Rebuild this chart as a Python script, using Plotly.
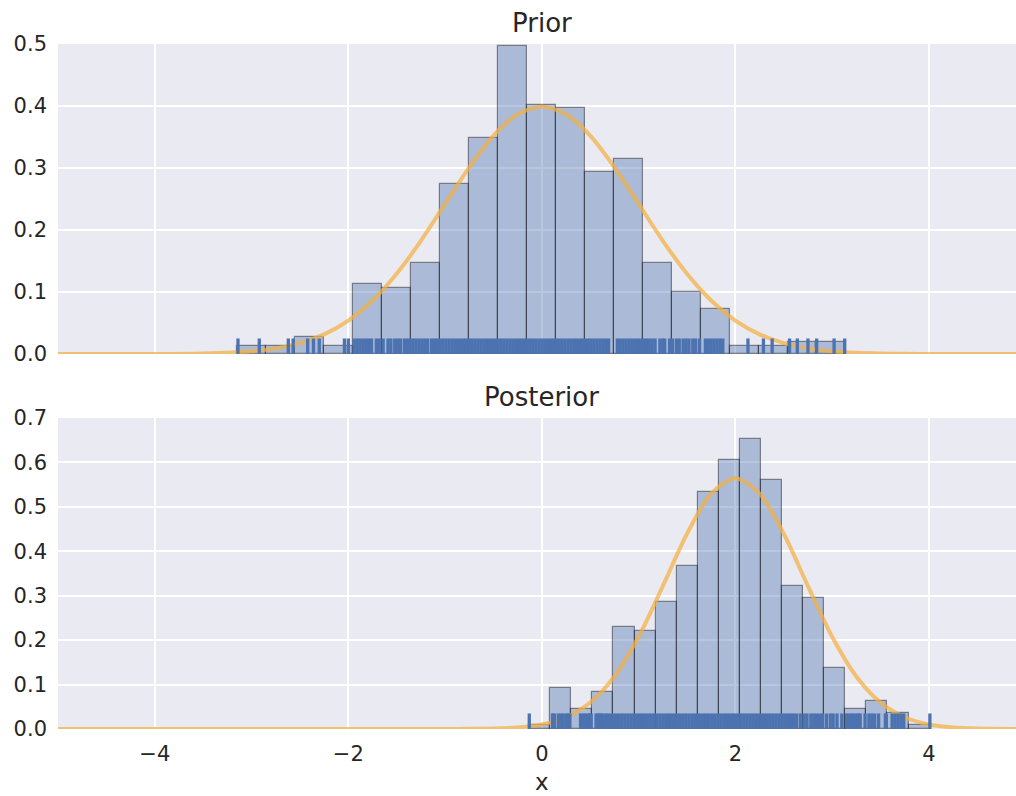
import plotly.graph_objects as go

# ---------------- data ----------------
# Prior histogram (density), 21 equal bins
prior_bin_start = -3.148
prior_bin_width = 0.2993
prior_density = [0.013, 0.013, 0.027, 0.013, 0.113, 0.107, 0.147, 0.274, 0.348,
                 0.496, 0.402, 0.396, 0.294, 0.315, 0.147, 0.100, 0.073, 0.013,
                 0.013, 0.019, 0.019]

# Posterior histogram (density), 19 equal bins
post_bin_start = -0.131
post_bin_width = 0.2178
post_density = [0.009, 0.092, 0.046, 0.083, 0.230, 0.220, 0.285, 0.367, 0.533,
                0.606, 0.652, 0.560, 0.321, 0.294, 0.138, 0.046, 0.064, 0.037,
                0.009]

# Density curves
curve_x = [-5.0, -4.5, -4.0, -3.5, -3.0, -2.75, -2.5, -2.25, -2.0, -1.75, -1.5,
           -1.25, -1.0, -0.75, -0.5, -0.25, 0.0, 0.25, 0.5, 0.75, 1.0, 1.25,
           1.5, 1.75, 2.0, 2.25, 2.5, 2.75, 3.0, 3.25, 3.5, 3.75, 4.0, 4.25,
           4.5, 5.0]
prior_curve = [0.0, 0.0, 0.0001, 0.0009, 0.0044, 0.0091, 0.0175, 0.0317, 0.0540,
               0.0863, 0.1295, 0.1826, 0.2420, 0.3011, 0.3521, 0.3867, 0.3989,
               0.3867, 0.3521, 0.3011, 0.2420, 0.1826, 0.1295, 0.0863, 0.0540,
               0.0317, 0.0175, 0.0091, 0.0044, 0.0020, 0.0009, 0.0003, 0.0001,
               0.0, 0.0, 0.0]
post_curve = [0.0, 0.0, 0.0, 0.0, 0.0, 0.0, 0.0, 0.0, 0.0, 0.0, 0.0, 0.0, 0.0001,
              0.0004, 0.0011, 0.0036, 0.0103, 0.0264, 0.0595, 0.1183, 0.2076,
              0.3215, 0.4394, 0.5300, 0.5642, 0.5300, 0.4394, 0.3215, 0.2076,
              0.1183, 0.0595, 0.0264, 0.0103, 0.0036, 0.0011, 0.0001]

# Rug positions (sample locations)
prior_rug = [-3.14, -2.92, -2.62, -2.57, -2.42, -2.36, -2.30, -2.04, -2.00,
             -1.94, -1.91, -1.88, -1.85, -1.82, -1.79, -1.76, -1.71, -1.68,
             -1.64, -1.59, -1.56, -1.52, -1.49, -1.46, -1.42, -1.39, -1.36,
             -1.33, -1.30, -1.27, -1.24, -1.21, -1.18,
             -1.14, -1.11, -1.08, -1.05, -1.02, -0.99, -0.96, -0.93, -0.90,
             -0.87, -0.84, -0.81, -0.78, -0.75, -0.72, -0.69, -0.66, -0.63,
             -0.60, -0.57, -0.54, -0.51, -0.48, -0.45, -0.42, -0.39, -0.36,
             -0.33, -0.30, -0.27, -0.24, -0.21, -0.18, -0.15, -0.12, -0.09,
             -0.06, -0.03, 0.00, 0.03, 0.06, 0.09, 0.12, 0.15, 0.18, 0.21,
             0.24, 0.27, 0.30, 0.33, 0.36, 0.39, 0.42, 0.45, 0.48, 0.51, 0.54,
             0.57, 0.60, 0.63, 0.66, 0.69,
             0.78, 0.81, 0.84, 0.87, 0.90, 0.93, 0.96, 0.99, 1.02, 1.05, 1.08,
             1.11, 1.14, 1.17,
             1.22, 1.25, 1.27, 1.32, 1.35, 1.39, 1.42, 1.46, 1.49, 1.52, 1.56,
             1.59, 1.63, 1.69, 1.72, 1.75, 1.78, 1.81, 1.84, 1.87,
             2.13, 2.29, 2.38, 2.56, 2.64, 2.75, 2.84, 3.02, 3.13]
post_rug = [-0.13,
            0.11, 0.13, 0.17, 0.20, 0.22, 0.25, 0.27, 0.29, 0.40, 0.43, 0.45,
            0.48, 0.49, 0.51, 0.56, 0.58, 0.60, 0.61, 0.63, 0.66, 0.68, 0.71,
            0.74, 0.77, 0.80, 0.83,
            0.86, 0.89, 0.92, 0.95, 0.98, 1.01, 1.04, 1.07, 1.10, 1.13, 1.16,
            1.19, 1.22, 1.25, 1.28, 1.31, 1.34, 1.37, 1.40, 1.43, 1.46, 1.49,
            1.52, 1.55, 1.58, 1.61, 1.64, 1.67, 1.70, 1.73, 1.76, 1.79, 1.82,
            1.85, 1.88, 1.91, 1.94, 1.97, 2.00, 2.03, 2.06, 2.09, 2.12, 2.15,
            2.18, 2.21, 2.24, 2.27, 2.30, 2.33, 2.36, 2.39, 2.42, 2.45, 2.48,
            2.51, 2.54, 2.57, 2.60, 2.63, 2.67, 2.71, 2.74, 2.78, 2.81, 2.84,
            2.87, 2.90, 2.94, 2.98, 3.01, 3.05,
            3.10, 3.15, 3.17, 3.20, 3.22, 3.25, 3.27, 3.29, 3.34, 3.38, 3.41,
            3.44, 3.48, 3.55, 3.56, 3.62, 3.65, 3.68, 3.71, 3.74, 4.01]

x_ticks = [-4, -2, 0, 2, 4]
prior_yticks = [0.0, 0.1, 0.2, 0.3, 0.4, 0.5]
post_yticks = [0.0, 0.1, 0.2, 0.3, 0.4, 0.5, 0.6, 0.7]
titles = ["Prior", "Posterior"]
x_label = "x"

# ---------------- styles ----------------
BG = "#EAEAF2"
TXT = "#262626"
BLUE = "#4C72B0"
BAR_FILL = "rgba(76,114,176,0.40)"
BAR_EDGE = "rgba(0,0,0,0.42)"
CURVE = "rgba(245,176,65,0.72)"
FONT = "DejaVu Sans"

X_RANGE = [-5.0, 4.9]
PRIOR_YMAX = 0.5
POST_YMAX = 0.7
RUG_FRAC = 0.05

fig = go.Figure()


def add_hist(start, width, dens, xa, ya):
    n = len(dens)
    centers = [start + width * (i + 0.5) for i in range(n)]
    fig.add_trace(go.Bar(
        x=centers, y=dens, width=[width] * n,
        marker=dict(color=BAR_FILL, line=dict(color=BAR_EDGE, width=1.2)),
        xaxis=xa, yaxis=ya, showlegend=False, hoverinfo="skip"))


def add_curve(xs, ys, xa, ya):
    fig.add_trace(go.Scatter(
        x=xs, y=ys, mode="lines",
        line=dict(color=CURVE, width=4, shape="spline", smoothing=0.8),
        xaxis=xa, yaxis=ya, showlegend=False, hoverinfo="skip"))


def add_rug(pos, h, xa, ya):
    rx, ry = [], []
    for p in pos:
        rx += [p, p, None]
        ry += [0, h, None]
    fig.add_trace(go.Scatter(
        x=rx, y=ry, mode="lines", line=dict(color=BLUE, width=3.3),
        xaxis=xa, yaxis=ya, showlegend=False, hoverinfo="skip"))


add_hist(prior_bin_start, prior_bin_width, prior_density, "x", "y")
add_curve(curve_x, prior_curve, "x", "y")
add_rug(prior_rug, PRIOR_YMAX * RUG_FRAC, "x", "y")

add_hist(post_bin_start, post_bin_width, post_density, "x2", "y2")
add_curve(curve_x, post_curve, "x2", "y2")
add_rug(post_rug, POST_YMAX * RUG_FRAC, "x2", "y2")

W, H = 1016, 796
m_l, m_r, m_t, m_b = 58, 0, 44, 67
plot_h = H - m_t - m_b
top_dom = [(729 - 354) / plot_h, 1.0]
bot_dom = [0.0, 311 / plot_h]

axis_common = dict(
    showgrid=True, gridcolor="white", gridwidth=1.8, zeroline=False,
    showline=False, tickfont=dict(family=FONT, size=21, color=TXT),
    ticks="", fixedrange=True, automargin=False,
)

fig.update_layout(
    width=W, height=H,
    margin=dict(l=m_l, r=m_r, t=m_t, b=m_b, pad=0, autoexpand=False),
    paper_bgcolor="white", plot_bgcolor=BG,
    barmode="overlay", bargap=0,
    font=dict(family=FONT, color=TXT),
    xaxis=dict(axis_common, domain=[0, 1], range=X_RANGE, tickvals=x_ticks,
               showticklabels=False, anchor="y"),
    yaxis=dict(axis_common, domain=top_dom, range=[0, PRIOR_YMAX],
               tickvals=prior_yticks, tickformat=".1f", anchor="x",
               ticklabelstandoff=10),
    xaxis2=dict(axis_common, domain=[0, 1], range=X_RANGE, tickvals=x_ticks,
                anchor="y2", matches="x", ticklabelstandoff=10),
    yaxis2=dict(axis_common, domain=bot_dom, range=[0, POST_YMAX],
                tickvals=post_yticks, tickformat=".1f", anchor="x2",
                ticklabelstandoff=10),
    annotations=[
        dict(text=titles[0], x=0, xref="x", y=top_dom[1], yref="paper",
             yanchor="bottom", yshift=4, showarrow=False,
             font=dict(family=FONT, size=26, color=TXT)),
        dict(text=titles[1], x=0, xref="x2", y=bot_dom[1], yref="paper",
             yanchor="bottom", yshift=4, showarrow=False,
             font=dict(family=FONT, size=26, color=TXT)),
        dict(text=x_label, x=0, xref="x2", y=0, yref="paper",
             yanchor="middle", yshift=-53, height=26, valign="middle",
             showarrow=False, font=dict(family=FONT, size=23, color=TXT)),
    ],
)

fig.write_html(
    "out.html",
    config={"displayModeBar": False},
    post_script="document.body.style.margin='0';document.body.style.padding='0';"
                "document.body.style.overflow='hidden';",
)
